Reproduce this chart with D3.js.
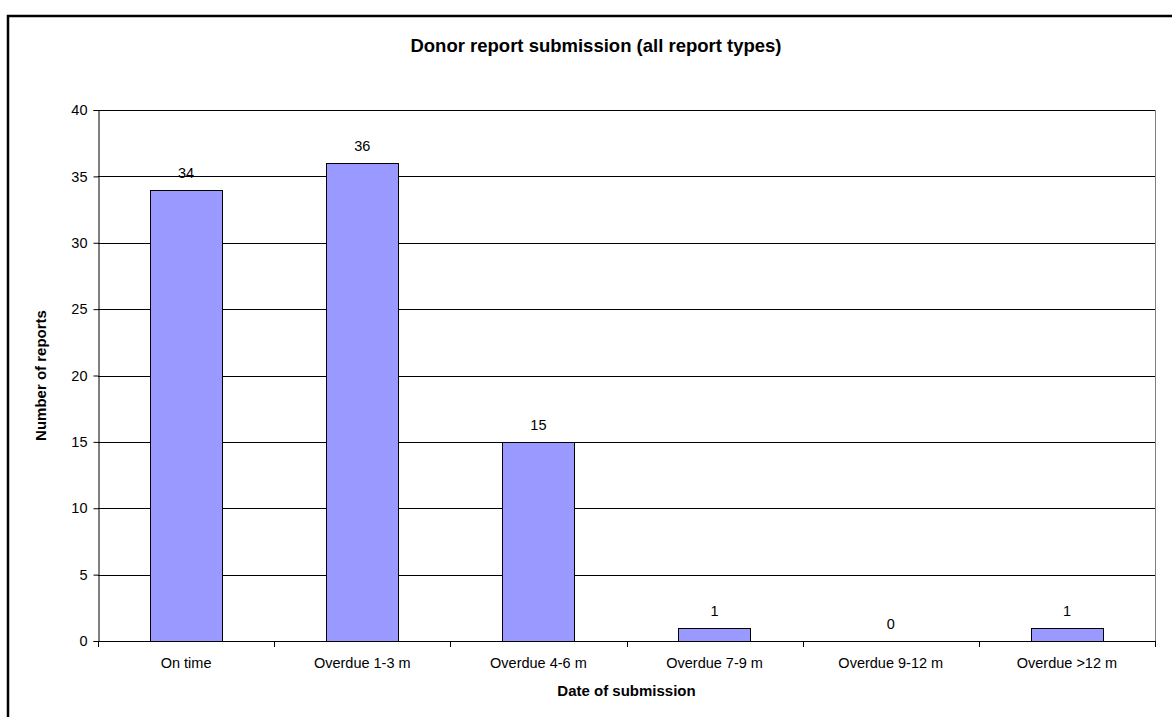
<!DOCTYPE html>
<html>
<head>
<meta charset="utf-8">
<script src="https://cdn.jsdelivr.net/npm/d3@7"></script>
<style>
  html, body { margin: 0; padding: 0; background: #fff; overflow: hidden; }
  svg { display: block; font-family: "Liberation Sans", Arial, sans-serif; }
</style>
</head>
<body>
<svg id="chart" width="1172" height="717"></svg>
<script>
// Submission timing categories and report counts
const categories = ["On time", "Overdue 1-3 m", "Overdue 4-6 m", "Overdue 7-9 m", "Overdue 9-12 m", "Overdue >12 m"];
const reportCounts = [34, 36, 15, 1, 0, 1];
const yTicks = [0, 5, 10, 15, 20, 25, 30, 35, 40];

const titleText = "Donor report submission (all report types)";
const xTitle = "Date of submission";
const yTitle = "Number of reports";

const svg = d3.select("#chart");
const plot = { left: 98, right: 1155, top: 110, bottom: 641 };
const labelSize = 14.5;

// Outer chart frame (continues past the visible window on the right and bottom)
svg.append("rect")
  .attr("x", 8).attr("y", 16)
  .attr("width", 1177).attr("height", 720)
  .attr("fill", "#fff").attr("stroke", "#000").attr("stroke-width", 2.5);

const x = d3.scaleBand().domain(categories).range([plot.left, plot.right]).paddingInner(0).paddingOuter(0);
const y = d3.scaleLinear().domain([0, 40]).range([plot.bottom, plot.top]);

// Horizontal gridlines
svg.append("g")
  .selectAll("line")
  .data(yTicks.filter(d => d > 0))
  .join("line")
  .attr("x1", plot.left).attr("x2", plot.right)
  .attr("y1", d => Math.round(y(d)) + 0.5).attr("y2", d => Math.round(y(d)) + 0.5)
  .attr("stroke", "#000").attr("stroke-width", 1);

// Plot area right border
svg.append("line")
  .attr("x1", plot.right + 0.5).attr("x2", plot.right + 0.5)
  .attr("y1", plot.top).attr("y2", plot.bottom)
  .attr("stroke", "#808080").attr("stroke-width", 1);

// Bars
const barW = x.bandwidth() * 0.41;
svg.append("g")
  .selectAll("rect")
  .data(categories.map((c, i) => ({ c, v: reportCounts[i] })).filter(d => d.v > 0))
  .join("rect")
  .attr("x", d => Math.round(x(d.c) + x.bandwidth() / 2 - barW / 2) + 0.5)
  .attr("y", d => Math.round(y(d.v)) + 0.5)
  .attr("width", Math.round(barW))
  .attr("height", d => Math.round(y(0)) - Math.round(y(d.v)))
  .attr("fill", "#9999FF").attr("stroke", "#000").attr("stroke-width", 1);

// Value labels above bars
svg.append("g")
  .selectAll("text")
  .data(categories.map((c, i) => ({ c, v: reportCounts[i] })))
  .join("text")
  .attr("x", d => x(d.c) + x.bandwidth() / 2)
  .attr("y", d => y(d.v) - 12)
  .attr("text-anchor", "middle")
  .attr("font-size", labelSize).attr("fill", "#000")
  .text(d => d.v);

// Y axis
const yAxis = d3.axisLeft(y).tickValues(yTicks).tickSize(5).tickPadding(6);
const gy = svg.append("g").attr("transform", `translate(${plot.left + 0.5},0)`).call(yAxis);
gy.select(".domain").attr("stroke", "#000");
gy.selectAll(".tick line").attr("stroke", "#000");
gy.selectAll(".tick text").attr("font-size", labelSize).attr("font-family", "Liberation Sans, Arial, sans-serif").attr("fill", "#000");

// X axis baseline with ticks at category boundaries
svg.append("line")
  .attr("x1", plot.left).attr("x2", plot.right + 1)
  .attr("y1", plot.bottom + 0.5).attr("y2", plot.bottom + 0.5)
  .attr("stroke", "#000").attr("stroke-width", 1);
const boundaries = categories.map(c => x(c)).concat([x.range()[1]]);
svg.append("g")
  .selectAll("line")
  .data(boundaries)
  .join("line")
  .attr("x1", d => Math.round(d) + 0.5).attr("x2", d => Math.round(d) + 0.5)
  .attr("y1", plot.bottom).attr("y2", plot.bottom + 6)
  .attr("stroke", "#000");

// Category labels
svg.append("g")
  .selectAll("text")
  .data(categories)
  .join("text")
  .attr("x", d => x(d) + x.bandwidth() / 2)
  .attr("y", plot.bottom + 27)
  .attr("text-anchor", "middle")
  .attr("font-size", labelSize).attr("fill", "#000")
  .text(d => d);

// Titles
svg.append("text")
  .attr("x", 596).attr("y", 52)
  .attr("text-anchor", "middle")
  .attr("font-size", 18.5).attr("font-weight", "bold")
  .text(titleText);

svg.append("text")
  .attr("x", (plot.left + plot.right) / 2).attr("y", 696)
  .attr("text-anchor", "middle")
  .attr("font-size", 15).attr("font-weight", "bold")
  .text(xTitle);

svg.append("text")
  .attr("transform", `translate(46,${(plot.top + plot.bottom) / 2}) rotate(-90)`)
  .attr("text-anchor", "middle")
  .attr("font-size", 15).attr("font-weight", "bold")
  .text(yTitle);
</script>
</body>
</html>
